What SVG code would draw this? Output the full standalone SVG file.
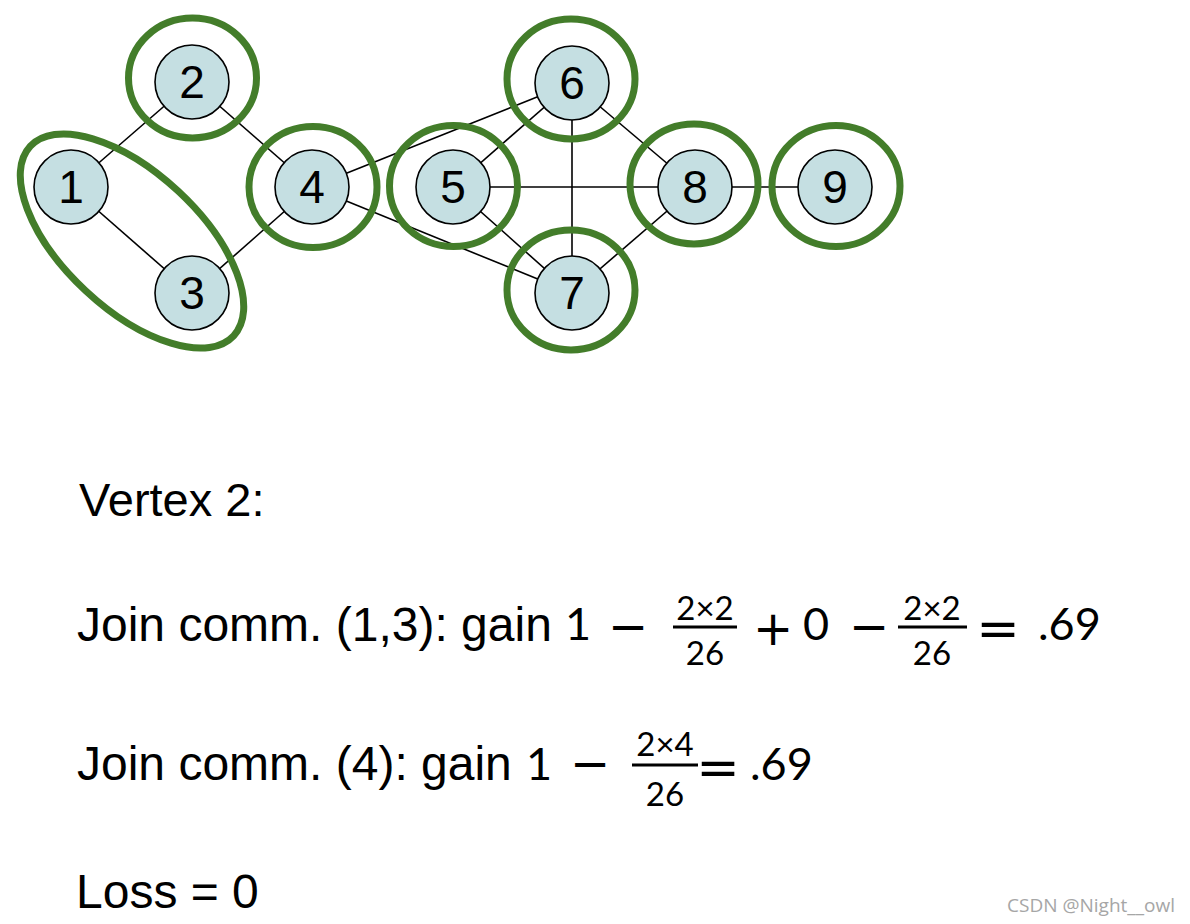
<svg xmlns="http://www.w3.org/2000/svg" width="1190" height="924" viewBox="0 0 1190 924">
<style>
.edge{stroke:#000;stroke-width:1.6;fill:none}
.node circle{fill:#c5dfe2;stroke:#000;stroke-width:1.6}
.node text{font-family:"Liberation Sans",Arial,sans-serif;font-size:46px;text-anchor:middle;fill:#000}
.ring{fill:none;stroke:#437d2a;stroke-width:7}
.t{font-family:"Liberation Sans",Arial,sans-serif;font-size:48px;fill:#000}
.m{font-family:Lato,"DejaVu Sans",sans-serif;font-size:45px;fill:#000;text-anchor:middle}
.ms{font-family:Lato,"DejaVu Sans",sans-serif;font-size:45px;fill:#000;text-anchor:start}
.op{font-family:"DejaVu Sans",sans-serif;font-size:48px;fill:#000;text-anchor:middle}
.eq{font-family:"DejaVu Sans",sans-serif;font-size:52px;fill:#000;text-anchor:middle}
.f{font-family:Lato,"DejaVu Sans",sans-serif;font-size:33px;fill:#000;text-anchor:middle}
.bar{stroke:#000;stroke-width:3}
</style>
<rect width="1190" height="924" fill="#fff"/>
<g id="connectors">
<line class="edge" x1="71" y1="187" x2="192" y2="82"/>
<line class="edge" x1="192" y1="82" x2="312" y2="187"/>
<line class="edge" x1="71" y1="187" x2="192" y2="293"/>
<line class="edge" x1="192" y1="293" x2="312" y2="187"/>
<line class="edge" x1="312" y1="187" x2="572" y2="83"/>
<line class="edge" x1="312" y1="187" x2="572" y2="293"/>
<line class="edge" x1="453" y1="187" x2="572" y2="83"/>
<line class="edge" x1="453" y1="187" x2="572" y2="293"/>
<line class="edge" x1="453" y1="187" x2="695" y2="187"/>
<line class="edge" x1="572" y1="83" x2="572" y2="293"/>
<line class="edge" x1="572" y1="83" x2="695" y2="187"/>
<line class="edge" x1="572" y1="293" x2="695" y2="187"/>
<line class="edge" x1="695" y1="187" x2="835" y2="187"/>
</g>
<g id="node1" class="node"><circle cx="71" cy="187" r="37"/><text x="71" y="203">1</text></g>
<g id="node2" class="node"><circle cx="192" cy="82" r="37"/><text x="192" y="98">2</text></g>
<g id="node3" class="node"><circle cx="192" cy="293" r="37"/><text x="192" y="309">3</text></g>
<g id="node4" class="node"><circle cx="312" cy="187" r="37"/><text x="312" y="203">4</text></g>
<g id="node5" class="node"><circle cx="453" cy="187" r="37"/><text x="453" y="203">5</text></g>
<g id="node6" class="node"><circle cx="572" cy="83" r="37"/><text x="572" y="99">6</text></g>
<g id="node7" class="node"><circle cx="572" cy="293" r="37"/><text x="572" y="309">7</text></g>
<g id="node8" class="node"><circle cx="695" cy="187" r="37"/><text x="695" y="203">8</text></g>
<g id="node9" class="node"><circle cx="835" cy="187" r="37"/><text x="835" y="203">9</text></g>
<g id="communities">
<ellipse class="ring" cx="132" cy="241" rx="139" ry="68" transform="rotate(43 132 241)"/>
<ellipse class="ring" cx="192.5" cy="78" rx="64" ry="60"/>
<ellipse class="ring" cx="313" cy="187" rx="64" ry="60.5"/>
<ellipse class="ring" cx="453.5" cy="186" rx="64" ry="60.5"/>
<ellipse class="ring" cx="571" cy="79" rx="64" ry="60"/>
<ellipse class="ring" cx="571" cy="290" rx="64" ry="60"/>
<ellipse class="ring" cx="694" cy="184" rx="64" ry="60"/>
<ellipse class="ring" cx="836" cy="186" rx="64" ry="60.5"/>
</g>
<g id="text">
<text class="t" x="79" y="516" style="font-size:47px">Vertex 2:</text>
<text class="t" x="77" y="641">Join comm. (1,3): gain</text>
<text class="m" x="578" y="640">1</text>
<text class="op" x="628" y="643">−</text>
<text class="f" x="705" y="620">2×2</text>
<line class="bar" x1="673" y1="627" x2="737" y2="627"/>
<text class="f" x="705" y="665">26</text>
<text class="op" x="773" y="645">+</text>
<text class="m" x="816" y="640">0</text>
<text class="op" x="869" y="643">−</text>
<text class="f" x="932" y="620">2×2</text>
<line class="bar" x1="898" y1="627" x2="967" y2="627"/>
<text class="f" x="932" y="665">26</text>
<text class="eq" x="998" y="646">=</text>
<text class="ms" x="1038" y="640">.69</text>
<text class="t" x="77" y="780">Join comm. (4): gain</text>
<text class="m" x="539" y="780">1</text>
<text class="op" x="590" y="780">−</text>
<text class="f" x="665" y="756">2×4</text>
<line class="bar" x1="632" y1="765" x2="698" y2="765"/>
<text class="f" x="665" y="806">26</text>
<text class="eq" x="718" y="785">=</text>
<text class="ms" x="750" y="780">.69</text>
<text class="t" x="76" y="908">Loss = 0</text>
<text x="1007" y="912" font-family="'Open Sans','Noto Sans',sans-serif" font-size="18" fill="#a6a6a6" textLength="168" lengthAdjust="spacingAndGlyphs">CSDN @Night__owl</text>
</g>
</svg>
